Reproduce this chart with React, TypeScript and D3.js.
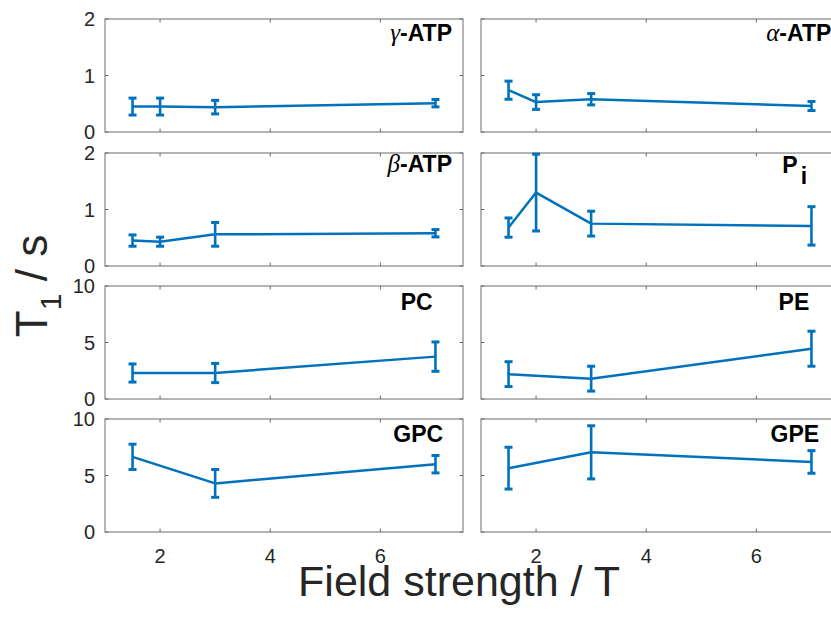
import React from "react";
import * as d3 from "d3";

// Field strengths (T) at which T1 was measured
const fieldsATP = [1.5, 2, 3, 7];
const fieldsPL = [1.5, 3, 7];

// Mean T1 (s) and error (s) for each metabolite
const gammaATP = [0.45, 0.45, 0.44, 0.51];
const gammaATPErr = [0.15, 0.15, 0.12, 0.065];
const alphaATP = [0.74, 0.53, 0.58, 0.46];
const alphaATPErr = [0.16, 0.13, 0.1, 0.08];
const betaATP = [0.45, 0.43, 0.56, 0.58];
const betaATPErr = [0.1, 0.08, 0.21, 0.065];
const pi = [0.68, 1.3, 0.75, 0.71];
const piErr = [0.17, 0.68, 0.22, 0.34];
const pc = [2.3, 2.3, 3.75];
const pcErr = [0.8, 0.85, 1.3];
const pe = [2.2, 1.8, 4.45];
const peErr = [1.1, 1.1, 1.55];
const gpc = [6.65, 4.3, 6.0];
const gpcErr = [1.12, 1.23, 0.77];
const gpe = [5.65, 7.05, 6.2];
const gpeErr = [1.85, 2.35, 1.0];

const xTicks = [2, 4, 6];
const yTicksSmall = [0, 1, 2];
const yTicksLarge = [0, 5, 10];

type Panel = {
  greek?: string;
  name: string;
  sub?: string;
  x: number[];
  y: number[];
  err: number[];
  row: number;
  col: number;
  yMax: number;
  yTicks: number[];
  labelX: number; // text end, in field units
  labelY: number; // text baseline, in T1 units
};

const panels: Panel[] = [
  { greek: "γ", name: "-ATP", x: fieldsATP, y: gammaATP, err: gammaATPErr, row: 0, col: 0, yMax: 2, yTicks: yTicksSmall, labelX: 7.3, labelY: 1.61 },
  { greek: "α", name: "-ATP", x: fieldsATP, y: alphaATP, err: alphaATPErr, row: 0, col: 1, yMax: 2, yTicks: yTicksSmall, labelX: 7.36, labelY: 1.61 },
  { greek: "β", name: "-ATP", x: fieldsATP, y: betaATP, err: betaATPErr, row: 1, col: 0, yMax: 2, yTicks: yTicksSmall, labelX: 7.3, labelY: 1.67 },
  { name: "P", sub: "i", x: fieldsATP, y: pi, err: piErr, row: 1, col: 1, yMax: 2, yTicks: yTicksSmall, labelX: 6.92, labelY: 1.65 },
  { name: "PC", x: fieldsPL, y: pc, err: pcErr, row: 2, col: 0, yMax: 10, yTicks: yTicksLarge, labelX: 6.95, labelY: 7.9 },
  { name: "PE", x: fieldsPL, y: pe, err: peErr, row: 2, col: 1, yMax: 10, yTicks: yTicksLarge, labelX: 6.96, labelY: 7.9 },
  { name: "GPC", x: fieldsPL, y: gpc, err: gpcErr, row: 3, col: 0, yMax: 10, yTicks: yTicksLarge, labelX: 7.14, labelY: 7.94 },
  { name: "GPE", x: fieldsPL, y: gpe, err: gpeErr, row: 3, col: 1, yMax: 10, yTicks: yTicksLarge, labelX: 7.14, labelY: 7.94 },
];

const W = 831;
const H = 620;
const colLeft = [105, 481];
const panelW = 358;
const rowTop = [19, 153, 286, 419];
const panelH = 113;
const lineColor = "#0072BD";
const axisColor = "#6b6b6b";
const textColor = "#262626";
const font = "'Liberation Sans', Arial, Helvetica, sans-serif";
const tickLen = 3.5;
const capHalf = 4;

function PanelView({ p }: { p: Panel }) {
  const x0 = colLeft[p.col];
  const y0 = rowTop[p.row];
  const x = d3.scaleLinear().domain([1, 7.5]).range([x0, x0 + panelW]);
  const y = d3.scaleLinear().domain([0, p.yMax]).range([y0 + panelH, y0]);
  const line = d3
    .line<number>()
    .x((_, i) => x(p.x[i]))
    .y((v) => y(v));
  const bottom = y0 + panelH;
  const right = x0 + panelW;
  return (
    <g>
      <rect x={x0} y={y0} width={panelW} height={panelH} fill="#fff" stroke={axisColor} strokeWidth={1} />
      {xTicks.map((t) => (
        <g key={"xt" + t}>
          <line x1={x(t)} x2={x(t)} y1={bottom} y2={bottom - tickLen} stroke={axisColor} />
          <line x1={x(t)} x2={x(t)} y1={y0} y2={y0 + tickLen} stroke={axisColor} />
          {p.row === 3 && (
            <text x={x(t)} y={bottom + 31} textAnchor="middle" fontSize={20} fill={textColor} fontFamily={font}>
              {t}
            </text>
          )}
        </g>
      ))}
      {p.yTicks.map((t) => (
        <g key={"yt" + t}>
          <line x1={x0} x2={x0 + tickLen} y1={y(t)} y2={y(t)} stroke={axisColor} />
          <line x1={right} x2={right - tickLen} y1={y(t)} y2={y(t)} stroke={axisColor} />
          {p.col === 0 && (
            <text x={x0 - 10} y={y(t)} dy="0.36em" textAnchor="end" fontSize={20} fill={textColor} fontFamily={font}>
              {t}
            </text>
          )}
        </g>
      ))}
      <path d={line(p.y) ?? ""} fill="none" stroke={lineColor} strokeWidth={2.5} strokeLinejoin="round" />
      {p.y.map((v, i) => {
        const cx = x(p.x[i]);
        const top = y(v + p.err[i]);
        const bot = y(v - p.err[i]);
        return (
          <g key={"e" + i} stroke={lineColor}>
            <line x1={cx} x2={cx} y1={top} y2={bot} strokeWidth={2.6} />
            <line x1={cx - capHalf} x2={cx + capHalf} y1={top} y2={top} strokeWidth={3} />
            <line x1={cx - capHalf} x2={cx + capHalf} y1={bot} y2={bot} strokeWidth={3} />
          </g>
        );
      })}
      <text x={x(p.labelX)} y={y(p.labelY)} textAnchor="end" fill="#000" fontFamily={font} fontSize={23} fontWeight="bold">
        {p.greek && (
          <tspan fontFamily="'Liberation Serif', 'DejaVu Serif', serif" fontStyle="italic" fontWeight="normal" fontSize={25}>
            {p.greek}
          </tspan>
        )}
        <tspan>{p.name}</tspan>
        {p.sub && (
          <tspan dy={11} dx={3}>
            {p.sub}
          </tspan>
        )}
      </text>
    </g>
  );
}

export default function App() {
  return (
    <svg
      width={W}
      height={H}
      viewBox={`0 0 ${W} ${H}`}
      style={{ position: "absolute", left: 0, top: 0, background: "#fff" }}
    >
      <rect width={W} height={H} fill="#fff" />
      {panels.map((p, i) => (
        <PanelView key={i} p={p} />
      ))}
      <text
        transform="translate(47,286) rotate(-90)"
        textAnchor="middle"
        fontFamily={font}
        fontSize={44}
        fill={textColor}
      >
        <tspan>T</tspan>
        <tspan fontSize={30} dy={14}>1</tspan>
        <tspan dy={-14}> / s</tspan>
      </text>
      <text x={459} y={596} textAnchor="middle" fontFamily={font} fontSize={43} fill={textColor}>
        Field strength / T
      </text>
    </svg>
  );
}
